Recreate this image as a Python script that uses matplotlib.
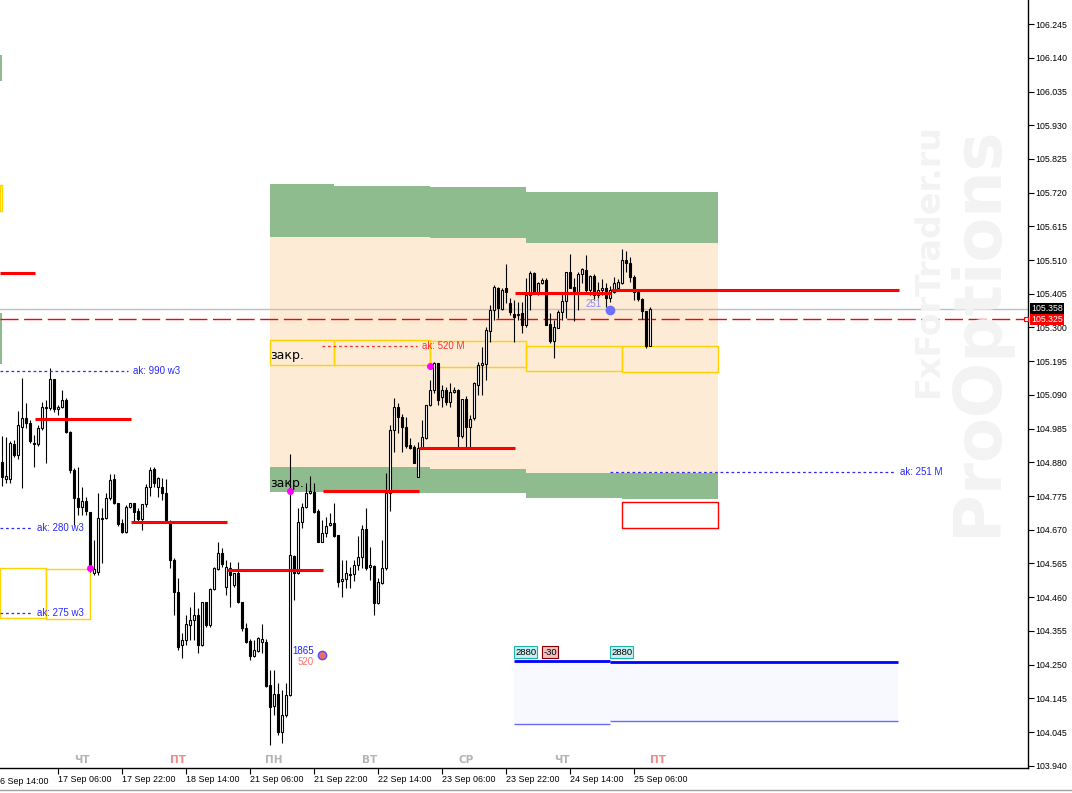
import matplotlib
matplotlib.use("Agg")
from matplotlib import pyplot as plt
from matplotlib.patches import Rectangle
from matplotlib.lines import Line2D
import matplotlib.transforms as mtransforms

# hourly bars, bar 0 = 16 Sep 16:00 (weekend skipped)
opens = [104.881, 104.828, 104.828, 104.937, 104.902, 104.990, 105.018, 105.002, 104.940, 104.937,
         104.987, 105.049, 105.049, 105.139, 105.046, 105.052, 105.074, 104.975, 104.856, 104.769,
         104.741, 104.760, 104.725, 104.535, 104.538, 104.706, 104.706, 104.769, 104.828, 104.753,
         104.691, 104.663, 104.741, 104.753, 104.728, 104.703, 104.750, 104.803, 104.859, 104.803,
         104.803, 104.785, 104.694, 104.576, 104.476, 104.311, 104.326, 104.373, 104.389, 104.404,
         104.311, 104.445, 104.373, 104.485, 104.548, 104.597, 104.491, 104.551, 104.498, 104.535,
         104.445, 104.364, 104.323, 104.277, 104.292, 104.320, 104.320, 104.186, 104.121, 104.158,
         104.040, 104.093, 104.155, 104.588, 104.535, 104.694, 104.741, 104.785, 104.788, 104.728,
         104.632, 104.660, 104.685, 104.691, 104.654, 104.510, 104.516, 104.532, 104.532, 104.560,
         104.585, 104.672, 104.554, 104.557, 104.442, 104.504, 104.551, 104.785, 104.981, 105.052,
         105.021, 104.990, 104.934, 104.928, 104.834, 104.924, 104.956, 105.059, 105.105, 105.189,
         105.083, 105.105, 105.068, 105.099, 105.105, 104.962, 105.077, 104.990, 105.018, 105.121,
         105.183, 105.186, 105.289, 105.354, 105.423, 105.358, 105.423, 105.376, 105.342, 105.339,
         105.345, 105.308, 105.401, 105.470, 105.410, 105.439, 105.448, 105.311, 105.258, 105.298,
         105.348, 105.382, 105.473, 105.426, 105.410, 105.467, 105.479, 105.417, 105.460, 105.401,
         105.417, 105.423, 105.392, 105.410, 105.423, 105.439, 105.510, 105.501, 105.457, 105.410,
         105.389, 105.351, 105.242]
highs = [104.962, 104.959, 104.946, 104.949, 105.040, 105.142, 105.065, 105.012, 104.965, 104.996,
         105.068, 105.074, 105.174, 105.139, 105.059, 105.105, 105.080, 104.978, 104.862, 104.865,
         104.803, 104.772, 104.725, 104.638, 104.785, 104.738, 104.785, 104.843, 104.843, 104.753,
         104.703, 104.747, 104.753, 104.753, 104.738, 104.750, 104.812, 104.865, 104.865, 104.834,
         104.831, 104.828, 104.700, 104.582, 104.520, 104.348, 104.404, 104.429, 104.476, 104.426,
         104.445, 104.445, 104.488, 104.554, 104.632, 104.613, 104.576, 104.569, 104.535, 104.569,
         104.445, 104.379, 104.330, 104.326, 104.336, 104.376, 104.330, 104.233, 104.233, 104.193,
         104.171, 104.193, 104.906, 104.591, 104.738, 104.753, 104.816, 104.837, 104.816, 104.734,
         104.700, 104.710, 104.722, 104.753, 104.654, 104.576, 104.576, 104.554, 104.576, 104.650,
         104.685, 104.738, 104.616, 104.560, 104.520, 104.638, 104.847, 104.996, 105.080, 105.065,
         105.030, 105.021, 104.956, 104.934, 104.943, 105.012, 105.059, 105.136, 105.192, 105.189,
         105.120, 105.114, 105.127, 105.114, 105.108, 105.077, 105.086, 105.028, 105.130, 105.192,
         105.239, 105.301, 105.370, 105.432, 105.426, 105.423, 105.498, 105.392, 105.386, 105.379,
         105.379, 105.454, 105.476, 105.473, 105.442, 105.454, 105.454, 105.345, 105.323, 105.354,
         105.404, 105.473, 105.529, 105.454, 105.473, 105.485, 105.526, 105.464, 105.467, 105.442,
         105.451, 105.439, 105.429, 105.457, 105.451, 105.544, 105.538, 105.519, 105.464, 105.410,
         105.392, 105.351, 105.364]
lows = [104.806, 104.816, 104.816, 104.896, 104.890, 104.800, 104.987, 104.940, 104.865, 104.931,
        104.981, 104.878, 105.043, 105.037, 105.028, 105.049, 104.972, 104.847, 104.685, 104.716,
        104.716, 104.716, 104.538, 104.529, 104.529, 104.566, 104.703, 104.763, 104.750, 104.681,
        104.660, 104.660, 104.738, 104.694, 104.691, 104.669, 104.741, 104.775, 104.803, 104.772,
        104.763, 104.694, 104.551, 104.404, 104.295, 104.270, 104.311, 104.326, 104.326, 104.286,
        104.308, 104.367, 104.367, 104.482, 104.544, 104.554, 104.467, 104.429, 104.491, 104.442,
        104.355, 104.317, 104.264, 104.273, 104.289, 104.286, 104.180, 103.999, 104.093, 104.030,
        104.006, 104.087, 104.152, 104.451, 104.532, 104.675, 104.738, 104.781, 104.722, 104.632,
        104.632, 104.647, 104.682, 104.647, 104.491, 104.460, 104.488, 104.488, 104.510, 104.544,
        104.551, 104.544, 104.513, 104.404, 104.439, 104.501, 104.544, 104.728, 104.912, 104.972,
        104.912, 104.924, 104.921, 104.878, 104.834, 104.921, 104.953, 105.055, 105.096, 105.059,
        105.052, 105.059, 105.052, 105.096, 104.928, 104.956, 104.928, 104.928, 105.012, 105.090,
        105.090, 105.136, 105.255, 105.323, 105.329, 105.354, 105.376, 105.339, 105.255, 105.323,
        105.283, 105.301, 105.354, 105.407, 105.401, 105.435, 105.308, 105.252, 105.205, 105.298,
        105.323, 105.329, 105.423, 105.320, 105.354, 105.439, 105.410, 105.401, 105.386, 105.392,
        105.401, 105.364, 105.379, 105.407, 105.417, 105.435, 105.473, 105.442, 105.386, 105.382,
        105.326, 105.236, 105.242]
closes = [104.834, 104.837, 104.940, 104.902, 104.996, 105.018, 105.002, 104.946, 104.937, 104.987,
          105.052, 105.052, 105.139, 105.046, 105.052, 105.074, 104.975, 104.856, 104.769, 104.741,
          104.760, 104.728, 104.551, 104.548, 104.706, 104.703, 104.769, 104.825, 104.753, 104.688,
          104.663, 104.741, 104.753, 104.725, 104.703, 104.750, 104.803, 104.856, 104.816, 104.831,
          104.785, 104.700, 104.576, 104.476, 104.305, 104.326, 104.376, 104.389, 104.404, 104.311,
          104.445, 104.373, 104.485, 104.551, 104.597, 104.563, 104.554, 104.529, 104.535, 104.445,
          104.364, 104.320, 104.277, 104.295, 104.333, 104.330, 104.183, 104.118, 104.158, 104.040,
          104.093, 104.155, 104.591, 104.535, 104.694, 104.741, 104.785, 104.791, 104.725, 104.632,
          104.660, 104.681, 104.691, 104.650, 104.507, 104.516, 104.535, 104.529, 104.560, 104.585,
          104.672, 104.551, 104.560, 104.442, 104.507, 104.551, 104.785, 104.981, 105.052, 105.021,
          104.990, 104.931, 104.924, 104.878, 104.924, 104.959, 105.059, 105.105, 105.189, 105.074,
          105.105, 105.068, 105.099, 105.105, 104.962, 105.077, 104.990, 105.015, 105.127, 105.183,
          105.189, 105.292, 105.354, 105.426, 105.361, 105.417, 105.410, 105.348, 105.333, 105.342,
          105.308, 105.401, 105.470, 105.410, 105.439, 105.448, 105.308, 105.258, 105.301, 105.348,
          105.382, 105.473, 105.423, 105.410, 105.467, 105.482, 105.417, 105.460, 105.401, 105.417,
          105.423, 105.392, 105.417, 105.439, 105.442, 105.510, 105.501, 105.457, 105.410, 105.389,
          105.351, 105.242, 105.358]

# right price scale
price_ticks = [106.245, 106.140, 106.035, 105.930, 105.825, 105.720, 105.615, 105.510, 105.405,
               105.300, 105.195, 105.090, 104.985, 104.880, 104.775, 104.670, 104.565, 104.460,
               104.355, 104.250, 104.145, 104.040, 103.935]
price_labels = ["106.245", "106.140", "106.035", "105.930", "105.825", "105.720", "105.615",
                "105.510", "105.405", "105.300", "105.195", "105.090", "104.985", "104.880",
                "104.775", "104.670", "104.565", "104.460", "104.355", "104.250", "104.145",
                "104.045", "103.940"]

# time scale
time_pos = [-2, 14, 30, 46, 62, 78, 94, 110, 126, 142, 158]
time_labels = ["16 Sep 14:00", "17 Sep 06:00", "17 Sep 22:00", "18 Sep 14:00", "21 Sep 06:00",
               "21 Sep 22:00", "22 Sep 14:00", "23 Sep 06:00", "23 Sep 22:00", "24 Sep 14:00",
               "25 Sep 06:00"]
day_pos = [20, 44, 68, 92, 116, 140, 164]
day_names = ["ЧТ", "ПТ", "ПН", "ВТ", "СР", "ЧТ", "ПТ"]
day_colors = ["#b4b4b4", "#f08a8a", "#b4b4b4", "#b4b4b4", "#b4b4b4", "#b4b4b4", "#f08a8a"]

# option zones (bar from, bar to, top, bottom)
green_top = [(67, 83, 105.747, 105.582), (83, 107, 105.741, 105.582),
             (107, 131, 105.737, 105.579), (131, 179, 105.722, 105.563)]
green_low = [(67, 83, 104.865, 104.787), (83, 107, 104.865, 104.784), (107, 131, 104.859, 104.784),
             (131, 155, 104.847, 104.769), (155, 179, 104.847, 104.766)]
yellow_boxes = [(-0.5, 11, 104.551, 104.395), (11, 22, 104.548, 104.392),
                (67, 83, 105.261, 105.183), (83, 107, 105.261, 105.183),
                (107, 131, 105.258, 105.177), (131, 155, 105.242, 105.164),
                (155, 179, 105.242, 105.161), (-0.5, 0, 105.744, 105.663)]
left_green = [(106.149, 106.068), (105.345, 105.186)]
red_box = (155, 179, 104.756, 104.675)

# red levels (bar from, bar to, price)
red_levels = [(-0.5, 8.25, 105.470), (8.25, 32.25, 105.015), (32.25, 56.25, 104.694),
              (56.25, 80.25, 104.544), (80.25, 104.25, 104.791), (104.25, 128.25, 104.925),
              (128.25, 152.25, 105.407), (152.25, 224.25, 105.417)]

# ak levels (bar from, bar to, price, text, colour)
ak_levels = [(-0.5, 31.5, 105.164, "ak: 990 w3", "#2a2aff"),
             (-0.5, 7.5, 104.675, "ak: 280 w3", "#2a2aff"),
             (-0.5, 7.5, 104.411, "ak: 275 w3", "#2a2aff"),
             (152, 223.25, 104.850, "ak: 251 M", "#2a2aff"),
             (80, 103.75, 105.242, "ak: 520 M", "#ff3030")]

bid = 105.358
ask_line = 105.325

small = "Liberation Sans"

fig = plt.figure(figsize=(10.72, 7.93), dpi=100)
ax = fig.add_axes([0, 1 - 768 / 793, 1028 / 1072, 768 / 793])

# watermark
fig.text(0.912, 0.583, "ProOptions", rotation=90, fontsize=47, fontweight="bold",
         color="#f3f3f3", ha="center", va="center", zorder=0)
fig.text(0.866, 0.672, "FxForTrader.ru", rotation=90, fontsize=24, fontweight="bold",
         color="#f3f3f3", ha="center", va="center", zorder=0)
ax.patch.set_alpha(0)

# zones
for i, (a, b, top, bot) in enumerate(green_top):
    ax.add_patch(Rectangle((a, bot), b - a, top - bot, fc="#8fbc8f", ec="none", zorder=1))
    low_top = green_low[min(i, 3)][2]
    ax.add_patch(Rectangle((a, low_top), b - a, bot - low_top, fc="#fdebd6", ec="none", zorder=1))
for a, b, top, bot in green_low:
    ax.add_patch(Rectangle((a, bot), b - a, top - bot, fc="#8fbc8f", ec="none", zorder=1))
for top, bot in left_green:
    ax.add_patch(Rectangle((-0.5, bot), 0.5, top - bot, fc="#8fbc8f", ec="none", zorder=1))
for a, b, top, bot in yellow_boxes:
    ax.add_patch(Rectangle((a, bot), b - a, top - bot, fc="none", ec="#ffd200", lw=1.0, zorder=2))
a, b, top, bot = red_box
ax.add_patch(Rectangle((a, bot), b - a, top - bot, fc="none", ec="#ff0000", lw=1.0, zorder=2))

# bid / ask lines
ax.axhline(bid, color="#c0c0c0", lw=1.0, zorder=2)
ax.axhline(ask_line, color="#ff0000", lw=1.0, dashes=(13, 4), zorder=2)

# candles
for i in range(len(opens)):
    o, h, l, c = opens[i], highs[i], lows[i], closes[i]
    ax.vlines(i, l, h, color="black", lw=0.8, zorder=3)
    bull = c >= o
    bot_ = min(o, c)
    height = max(abs(c - o), 0.002)
    ax.add_patch(Rectangle((i - 0.33, bot_), 0.66, height, fc="white" if bull else "black",
                           ec="black", lw=0.8, zorder=3.5))

# red levels
for a, b, p in red_levels:
    ax.hlines(p, a, b, color="#ff0000", lw=2.2, zorder=4)

# ak levels
for a, b, p, t, col in ak_levels:
    ax.hlines(p, a, b, color=col, lw=0.9, linestyles=(0, (2.2, 2.2)), zorder=4)
    ax.text(b + 1.2, p, t, color=col, fontsize=7, family=small, va="center", ha="left", zorder=5)

ax.text(67.1, 105.214, "закр.", fontsize=9, va="center", ha="left", color="black", zorder=5)
ax.text(67.1, 104.815, "закр.", fontsize=9, va="center", ha="left", color="black", zorder=5)

# markers
ax.plot([22, 72, 107], [104.551, 104.791, 105.180], "o", color="#ff00ff", ms=4, zorder=6)
ax.plot([152], [105.354], "o", color="#7070ff", ms=6, zorder=6)
ax.text(147.8, 105.373, "251", color="#8c8cff", fontsize=7, family=small, ha="center", va="center", zorder=6)
ax.plot([80], [104.280], "o", mfc="#f06a6a", mec="#5050ff", ms=6, zorder=6)
ax.text(78.0, 104.292, "1865", color="#2020ff", fontsize=7, family=small, ha="right", va="center", zorder=6)
ax.text(78.0, 104.258, "520", color="#ff7070", fontsize=7, family=small, ha="right", va="center", zorder=6)

# volume band
ax.add_patch(Rectangle((128, 104.065), 23.9, 104.262 - 104.065, fc="#f8f8ff", ec="none", zorder=1))
ax.add_patch(Rectangle((151.9, 104.074), 72.1, 104.259 - 104.074, fc="#f8f8ff", ec="none", zorder=1))
ax.hlines([104.262, 104.259], [128, 151.9], [151.9, 224], color="#0000ff", lw=2.0, zorder=4)
ax.hlines([104.065, 104.074], [128, 151.9], [151.9, 224], color="#6a6aff", lw=1.0, zorder=4)
box_kw = dict(fontsize=6.8, family=small, ha="left", va="center", zorder=6)
ax.text(128.3, 104.289, "2880", bbox=dict(boxstyle="square,pad=0.12", fc="#c8f0f0", ec="#20b0b0", lw=0.8), **box_kw)
ax.text(135.4, 104.289, "-30", bbox=dict(boxstyle="square,pad=0.12", fc="#f0c0c0", ec="#800000", lw=0.8), **box_kw)
ax.text(152.3, 104.289, "2880", bbox=dict(boxstyle="square,pad=0.12", fc="#c8f0f0", ec="#20b0b0", lw=0.8), **box_kw)

# day names
trans = mtransforms.blended_transform_factory(ax.transData, ax.transAxes)
for pos, name, col in zip(day_pos, day_names, day_colors):
    ax.text(pos, 0.0105, name, transform=trans, color=col, fontsize=7.5, fontweight="bold",
            ha="center", va="center", zorder=6)

# axes
for s in ["left", "top"]:
    ax.spines[s].set_visible(False)
for s in ["right", "bottom"]:
    ax.spines[s].set_color("black")
    ax.spines[s].set_linewidth(1.0)
ax.yaxis.tick_right()
ax.set_yticks(price_ticks)
ax.set_yticklabels(price_labels, family=small)
ax.set_xticks(time_pos[1:])
ax.set_xticklabels(time_labels[1:], ha="left", family=small)
ax.tick_params(axis="y", length=4, pad=1.5, labelsize=6.3, colors="black")
ax.tick_params(axis="x", length=4, pad=1, labelsize=6.4, colors="black")
ax.set_xlim(-0.5, 256.5)
ax.set_ylim(103.928, 106.320)
# first time label sits left of the window and is cut by the edge
ax.text(time_pos[0] + 0.2, -0.0115, time_labels[0], transform=trans, fontsize=6.4, family=small,
        ha="left", va="top", clip_on=False)

# price labels on the scale
ytrans = mtransforms.blended_transform_factory(ax.transAxes, ax.transData)
ax.text(1.003, bid, "105.358", transform=ytrans, color="white", fontsize=6.3, family=small,
        va="center", ha="left", bbox=dict(boxstyle="square,pad=0.12", fc="black", ec="none"),
        zorder=7, clip_on=False)
ax.text(1.003, ask_line, "105.325", transform=ytrans, color="white", fontsize=6.3, family=small,
        va="center", ha="left", bbox=dict(boxstyle="square,pad=0.12", fc="#ff0000", ec="none"),
        zorder=7, clip_on=False)
ax.plot([0.998], [ask_line], "s", mfc="white", mec="#ff0000", ms=3, mew=0.8,
        transform=ytrans, clip_on=False, zorder=8)

fig.add_artist(Line2D([0, 1], [1 - 790 / 793] * 2, color="#a0a0a0", lw=1.0))

plt.savefig("out.png", dpi=100)
